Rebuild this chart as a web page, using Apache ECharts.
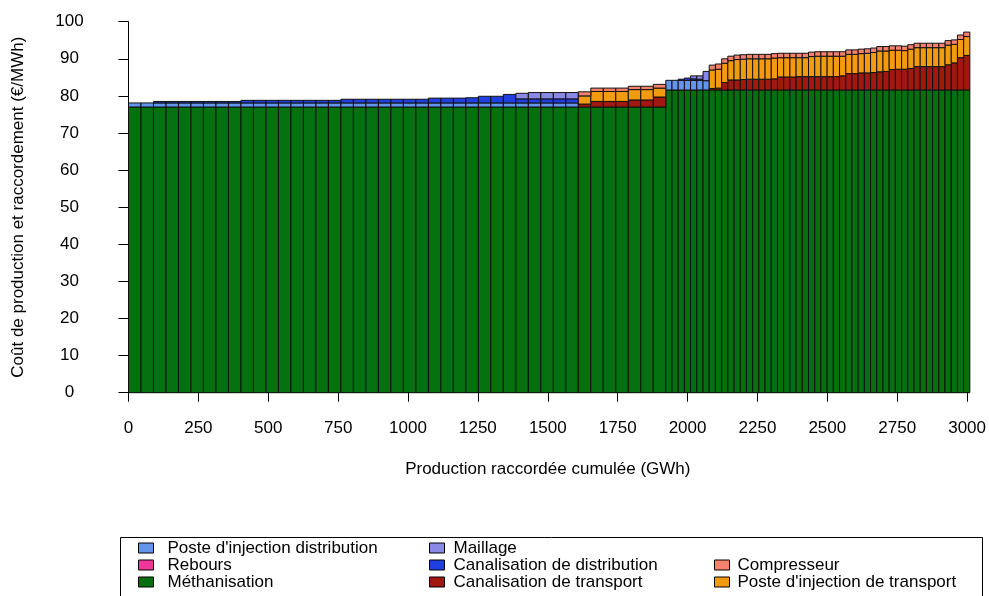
<!DOCTYPE html>
<html>
<head>
<meta charset="utf-8">
<script src="https://cdn.jsdelivr.net/npm/echarts@6/dist/echarts.min.js"></script>
<style>html,body{margin:0;padding:0;background:#fff}#chart{width:989px;height:596px}</style>
</head>
<body>
<div id="chart"></div>
<script>
// ---- Data ----
// Width (GWh) of each bar, in order; bars are laid side by side from 0.
const barWidthsGWh = [
  44.7,44.7,44.7,44.7,44.7,44.7,44.7,44.7,44.7,44.7,
  44.7,44.7,44.7,44.7,44.7,44.7,44.7,44.7,44.7,44.7,
  44.7,44.7,44.7,44.7,44.7,44.7,44.7,44.7,44.7,44.7,
  44.7,44.7,44.7,44.7,44.7,44.7,44.7,44.7,44.7,44.7,
  44.7,44.7,44.7,
  22.2,22.2,22.2,22.2,22.2,22.2,22.2,22.2,22.2,22.2,
  22.2,22.2,22.2,22.2,22.2,22.2,22.2,22.2,22.2,22.2,
  22.2,22.2,22.2,22.2,22.2,22.2,22.2,22.2,22.2,22.2,
  22.2,22.2,22.2,22.2,22.2,22.2,22.2,22.2,22.2,22.2,
  22.2,22.2,22.2,22.2,22.2,22.2,22.2,22.2,22.2
];
// Cost components (€/MWh) per bar, bottom to top of the stack
const methanisation = [
  77,77,77,77,77,77,77,77,77,77, 77,77,77,77,77,77,77,77,77,77,
  77,77,77,77,77,77,77,77,77,77, 77,77,77,77,77,77,77,77,77,77, 77,77,77,
  81.6,81.6,81.6,81.6,81.6,81.6,81.6,81.6,81.6,81.6, 81.6,81.6,81.6,81.6,81.6,81.6,81.6,81.6,81.6,81.6,
  81.6,81.6,81.6,81.6,81.6,81.6,81.6,81.6,81.6,81.6, 81.6,81.6,81.6,81.6,81.6,81.6,81.6,81.6,81.6,81.6,
  81.6,81.6,81.6,81.6,81.6,81.6,81.6,81.6,81.6
];
const posteInjectionDistribution = [
  1.1,1.1,1.1,1.1,1.1,1.1,1.1,1.1,1.1,1.1, 1.1,1.1,1.1,1.1,1.1,1.1,1.1,1.1,1.1,1.1,
  1.1,1.1,1.1,1.1,1.1,1.1,1.1,1.1,1.1,1.1, 1.1,1.1,1.1,1.1,1.1,1.1,0,0,0,0, 0,0,0,
  2.6,2.6,2.6,2.6,2.6,2.6,2.5,0,0,0, 0,0,0,0,0,0,0,0,0,0,
  0,0,0,0,0,0,0,0,0,0, 0,0,0,0,0,0,0,0,0,0,
  0,0,0,0,0,0,0,0,0
];
const canalisationDistribution = [
  0,0,0.4,0.4,0.4,0.4,0.4,0.4,0.4,0.7, 0.7,0.7,0.7,0.7,0.7,0.7,0.7,1.0,1.0,1.0,
  1.0,1.0,1.0,1.0,1.3,1.3,1.3,1.4,1.8,1.8, 2.3,1.1,1.1,1.1,1.1,1.1,0,0,0,0, 0,0,0,
  0,0,0.3,0.6,0.4,0.3,0,0,0,0, 0,0,0,0,0,0,0,0,0,0,
  0,0,0,0,0,0,0,0,0,0, 0,0,0,0,0,0,0,0,0,0,
  0,0,0,0,0,0,0,0,0
];
const maillage = [
  0,0,0,0,0,0,0,0,0,0, 0,0,0,0,0,0,0,0,0,0,
  0,0,0,0,0,0,0,0,0,0, 0,1.5,1.7,1.7,1.7,1.7,0,0,0,0, 0,0,0,
  0,0,0,0,0.8,0.9,2.5,0,0,0, 0,0,0,0,0,0,0,0,0,0,
  0,0,0,0,0,0,0,0,0,0, 0,0,0,0,0,0,0,0,0,0,
  0,0,0,0,0,0,0,0,0
];
const rebours = [
  0,0,0,0,0,0,0,0,0,0, 0,0,0,0,0,0,0,0,0,0,
  0,0,0,0,0,0,0,0,0,0, 0,0,0,0,0,0,0,0,0,0, 0,0,0,
  0,0,0,0,0,0,0,0,0,0, 0,0,0,0,0,0,0,0,0,0,
  0,0,0,0,0,0,0,0,0,0, 0,0,0,0,0,0,0,0,0,0,
  0,0,0,0,0,0,0,0,0
];
const canalisationTransport = [
  0,0,0,0,0,0,0,0,0,0, 0,0,0,0,0,0,0,0,0,0,
  0,0,0,0,0,0,0,0,0,0, 0,0,0,0,0,0,0.8,1.5,1.5,1.5, 1.9,1.9,2.7,
  0,0,0,0,0,0,0,0.4,0.5,2.0, 2.7,2.7,2.8,2.9,2.9,2.9,2.9,3.0,3.5,3.5,
  3.5,3.6,3.6,3.6,3.6,3.6,3.6,3.6,3.8,4.4, 4.4,4.6,4.6,4.7,4.9,5.0,5.5,5.6,5.6,5.8,
  6.3,6.3,6.3,6.3,6.3,6.8,7.3,8.7,9.3
];
const posteInjectionTransport = [
  0,0,0,0,0,0,0,0,0,0, 0,0,0,0,0,0,0,0,0,0,
  0,0,0,0,0,0,0,0,0,0, 0,0,0,0,0,0,2.2,2.7,2.7,2.7, 2.8,2.8,2.4,
  0,0,0,0,0,0,0,5.0,5.1,5.2, 5.2,5.5,5.5,5.5,5.5,5.5,5.5,5.6,5.2,5.2,
  5.2,5.1,5.1,5.4,5.5,5.5,5.5,5.5,5.3,5.2, 5.2,5.2,5.3,5.4,5.6,5.5,5.2,5.1,5.0,5.2,
  5.1,5.1,5.1,5.1,5.1,5.3,5.0,4.9,5.1
];
const compresseur = [
  0,0,0,0,0,0,0,0,0,0, 0,0,0,0,0,0,0,0,0,0,
  0,0,0,0,0,0,0,0,0,0, 0,0,0,0,0,0,1.1,0.9,0.9,0.9, 0.9,0.9,1.0,
  0,0,0,0,0,0,0,1.3,1.4,1.2, 1.2,1.2,1.2,1.2,1.2,1.2,1.2,1.2,1.2,1.2,
  1.2,1.2,1.2,1.2,1.2,1.2,1.2,1.2,1.2,1.2, 1.2,1.2,1.2,1.2,1.2,1.2,1.2,1.2,1.2,1.2,
  1.2,1.2,1.2,1.2,1.2,1.2,1.2,1.2,1.2
];

const xTitle = "Production raccordée cumulée (GWh)";
const yTitle = "Coût de production et raccordement (€/MWh)";

// Stack order (bottom -> top)
const stackSeries = [
  { name: "Méthanisation", values: methanisation, color: "#04700F" },
  { name: "Poste d'injection distribution", values: posteInjectionDistribution, color: "#6495ED" },
  { name: "Canalisation de distribution", values: canalisationDistribution, color: "#1F3FE0" },
  { name: "Maillage", values: maillage, color: "#8A8AE6" },
  { name: "Rebours", values: rebours, color: "#F0389A" },
  { name: "Canalisation de transport", values: canalisationTransport, color: "#A01810" },
  { name: "Poste d'injection de transport", values: posteInjectionTransport, color: "#F29A10" },
  { name: "Compresseur", values: compresseur, color: "#F4826C" }
];

// ---- Build stacked rectangles data [x0, x1, yBase, yTop] ----
const xStarts = [];
let acc = 0;
for (let i = 0; i < barWidthsGWh.length; i++) { xStarts.push(acc); acc += barWidthsGWh[i]; }
const baseLine = barWidthsGWh.map(() => 0);

const FONT = "'Liberation Sans', Arial, sans-serif";

function renderItem(params, api) {
  const p0 = api.coord([api.value(0), api.value(2)]);
  const p1 = api.coord([api.value(1), api.value(3)]);
  return {
    type: 'rect',
    shape: { x: p0[0], y: p1[1], width: p1[0] - p0[0], height: p0[1] - p1[1] },
    style: { fill: api.visual('color'), stroke: '#111', lineWidth: 1 }
  };
}

const series = stackSeries.map(s => {
  const data = [];
  s.values.forEach((v, i) => {
    const b = baseLine[i];
    if (v > 0) data.push([xStarts[i], xStarts[i] + barWidthsGWh[i], b, b + v]);
    baseLine[i] = b + v;
  });
  return {
    type: 'custom', name: s.name, renderItem: renderItem,
    encode: { x: [0, 1], y: [2, 3] },
    itemStyle: { color: s.color },
    clip: false, data: data
  };
});

const legendCommon = {
  orient: 'vertical', padding: 0, itemGap: 0, itemWidth: 15, itemHeight: 10,
  icon: 'rect', selectedMode: true,
  itemStyle: { borderColor: '#000', borderWidth: 1 },
  textStyle: { fontFamily: FONT, fontSize: 17, color: '#000', lineHeight: 17 }
};

const chart = echarts.init(document.getElementById('chart'), null, { renderer: 'canvas' });
chart.setOption({
  animation: false,
  backgroundColor: '#fff',
  textStyle: { fontFamily: FONT },
  grid: { left: 128.5, right: 20, top: 21.7, bottom: 203.3, containLabel: false },
  xAxis: {
    type: 'value', min: 0, max: 3000, interval: 250, offset: 4,
    axisLine: { show: true, lineStyle: { color: '#000', width: 1 } },
    axisTick: { show: true, length: 9, lineStyle: { color: '#000', width: 1 } },
    axisLabel: { fontFamily: FONT, fontSize: 17, color: '#000', margin: 23,
                 formatter: v => String(v) },
    splitLine: { show: false },
    name: xTitle, nameLocation: 'middle', nameGap: 64,
    nameTextStyle: { fontFamily: FONT, fontSize: 17, color: '#000' }
  },
  yAxis: {
    type: 'value', min: 0, max: 100, interval: 10, offset: 33.5,
    axisLine: { show: true, lineStyle: { color: '#000', width: 1 } },
    axisTick: { show: true, length: 10, lineStyle: { color: '#000', width: 1 } },
    axisLabel: { fontFamily: FONT, fontSize: 17, color: '#000', margin: 25.5, align: 'center',
                 formatter: v => String(v) },
    splitLine: { show: false },
    name: yTitle, nameLocation: 'middle', nameGap: 68,
    nameTextStyle: { fontFamily: FONT, fontSize: 17, color: '#000' }
  },
  legend: [
    Object.assign({}, legendCommon, {
      left: 138, top: 539.5,
      data: ["Poste d'injection distribution", "Rebours", "Méthanisation"],
      textStyle: Object.assign({}, legendCommon.textStyle, { padding: [0, 0, 0, 9] })
    }),
    Object.assign({}, legendCommon, {
      left: 429, top: 539.5,
      data: ["Maillage", "Canalisation de distribution", "Canalisation de transport"],
      textStyle: Object.assign({}, legendCommon.textStyle, { padding: [0, 0, 0, 4] })
    }),
    Object.assign({}, legendCommon, {
      left: 714, top: 556.5,
      data: ["Compresseur", "Poste d'injection de transport"],
      textStyle: Object.assign({}, legendCommon.textStyle, { padding: [0, 0, 0, 3] })
    })
  ],
  graphic: [{
    type: 'rect', left: 118, top: 535, silent: true,
    shape: { width: 862, height: 100 },
    style: { fill: 'none', stroke: '#000', lineWidth: 1 }
  }],
  series: series
});
</script>
</body>
</html>
